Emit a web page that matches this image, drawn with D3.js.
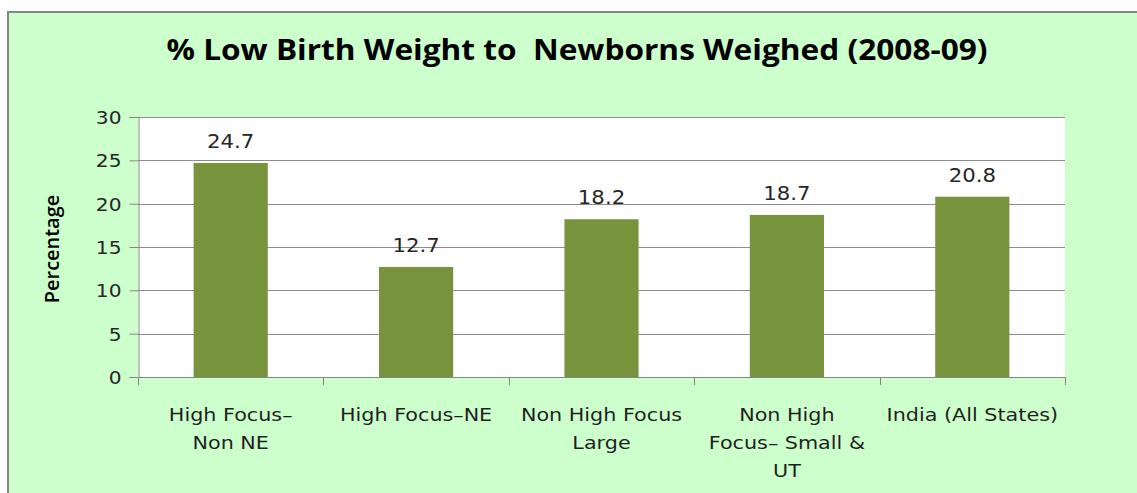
<!DOCTYPE html>
<html>
<head>
<meta charset="utf-8">
<script src="https://cdn.jsdelivr.net/npm/d3@7"></script>
<style>
  html, body { margin: 0; padding: 0; background: #ffffff; }
  svg { display: block; }
  text { white-space: pre; }
</style>
</head>
<body>
<svg id="chart" width="1137" height="493"></svg>
<script>
const categories = [
  ["High Focus–", "Non NE"],
  ["High Focus–NE"],
  ["Non High Focus", "Large"],
  ["Non High", "Focus– Small &", "UT"],
  ["India (All States)"]
];
const values = [24.7, 12.7, 18.2, 18.7, 20.8];
const yTicks = [0, 5, 10, 15, 20, 25, 30];
const titleText = "% Low Birth Weight to  Newborns Weighed (2008-09)";
const yTitle = "Percentage";

const W = 1137, H = 493;
const plot = { left: 138, top: 117, right: 1065, bottom: 377 };
const stretch = 1.12;

const svg = d3.select("#chart");

// chart area background with border (left and top visible)
svg.append("rect").attr("x", 8).attr("y", 12).attr("width", W).attr("height", H)
  .attr("fill", "#CCFFCC").attr("stroke", "#868686").attr("stroke-width", 2);

const x = d3.scaleBand().domain(d3.range(categories.length))
  .range([plot.left, plot.right]).paddingInner(0.6).paddingOuter(0.3);
const xb = d3.scaleBand().domain(d3.range(categories.length))
  .range([plot.left, plot.right]);
const y = d3.scaleLinear().domain([0, 30]).range([plot.bottom, plot.top]);

// plot area
svg.append("rect").attr("x", plot.left).attr("y", plot.top)
  .attr("width", plot.right - plot.left).attr("height", plot.bottom - plot.top)
  .attr("fill", "#ffffff");

// gridlines
svg.append("g").selectAll("line").data(yTicks.filter(d => d > 0)).join("line")
  .attr("x1", plot.left).attr("x2", plot.right)
  .attr("y1", d => Math.round(y(d)) + 0.5).attr("y2", d => Math.round(y(d)) + 0.5)
  .attr("stroke", "#8c8c8c").attr("stroke-width", 1);

// bars
svg.append("g").selectAll("rect").data(values).join("rect")
  .attr("x", (d, i) => x(i)).attr("width", x.bandwidth())
  .attr("y", d => y(d)).attr("height", d => y(0) - y(d))
  .attr("fill", "#77933C");

// data labels
svg.append("g").selectAll("text").data(values).join("text")
  .attr("transform", (d, i) => `translate(${x(i) + x.bandwidth() / 2},${y(d) - 15}) scale(${stretch},1)`)
  .attr("text-anchor", "middle")
  .attr("font-family", "DejaVu Sans").attr("font-size", 19)
  .attr("fill", "#262626")
  .text(d => d.toFixed(1));

// y axis
const yAxis = d3.axisLeft(y).tickValues(yTicks).tickSize(9).tickPadding(8).tickFormat(d3.format("d"));
const gy = svg.append("g").attr("transform", `translate(${plot.left + 0.5},0)`).call(yAxis);
gy.select(".domain").attr("stroke", "#868686");
gy.selectAll(".tick line").attr("stroke", "#868686");
gy.selectAll(".tick text")
  .attr("font-family", "DejaVu Sans").attr("font-size", 18).attr("fill", "#262626")
  .attr("dy", "0.36em")
  .each(function () {
    const t = d3.select(this);
    const xx = +t.attr("x");
    t.attr("x", null).attr("transform", `translate(${xx},0) scale(${stretch},1)`);
  });
gy.attr("font-family", null).attr("font-size", null);

// x axis line and category boundary ticks
const gx = svg.append("g");
gx.append("line").attr("x1", plot.left).attr("x2", plot.right)
  .attr("y1", plot.bottom + 0.5).attr("y2", plot.bottom + 0.5).attr("stroke", "#868686");
const bounds = d3.range(categories.length).map(i => xb(i)).concat([plot.right]);
gx.selectAll("line.tk").data(bounds).join("line").attr("class", "tk")
  .attr("x1", d => Math.round(d) + 0.5).attr("x2", d => Math.round(d) + 0.5)
  .attr("y1", plot.bottom).attr("y2", plot.bottom + 8).attr("stroke", "#868686");

// category labels
const catG = svg.append("g").selectAll("g").data(categories).join("g")
  .attr("transform", (d, i) => `translate(${xb(i) + xb.bandwidth() / 2},0)`);
catG.selectAll("text").data(d => d).join("text")
  .attr("transform", (d, j) => `translate(0,${421 + j * 28}) scale(${stretch},1)`)
  .attr("text-anchor", "middle")
  .attr("font-family", "DejaVu Sans").attr("font-size", 18.5)
  .attr("fill", "#1f1f1f")
  .text(d => d);

// title
svg.append("text")
  .attr("x", 577).attr("y", 60)
  .attr("text-anchor", "middle")
  .attr("font-family", "Open Sans").attr("font-weight", 700).attr("font-size", 28)
  .attr("textLength", 821).attr("lengthAdjust", "spacingAndGlyphs")
  .attr("fill", "#000000")
  .text(titleText);

// y axis title
svg.append("text")
  .attr("transform", `translate(59,249) rotate(-90) scale(1.05,1)`)
  .attr("text-anchor", "middle")
  .attr("font-family", "Open Sans").attr("font-weight", 600).attr("font-size", 19)
  .attr("fill", "#000000")
  .text(yTitle);
</script>
</body>
</html>
